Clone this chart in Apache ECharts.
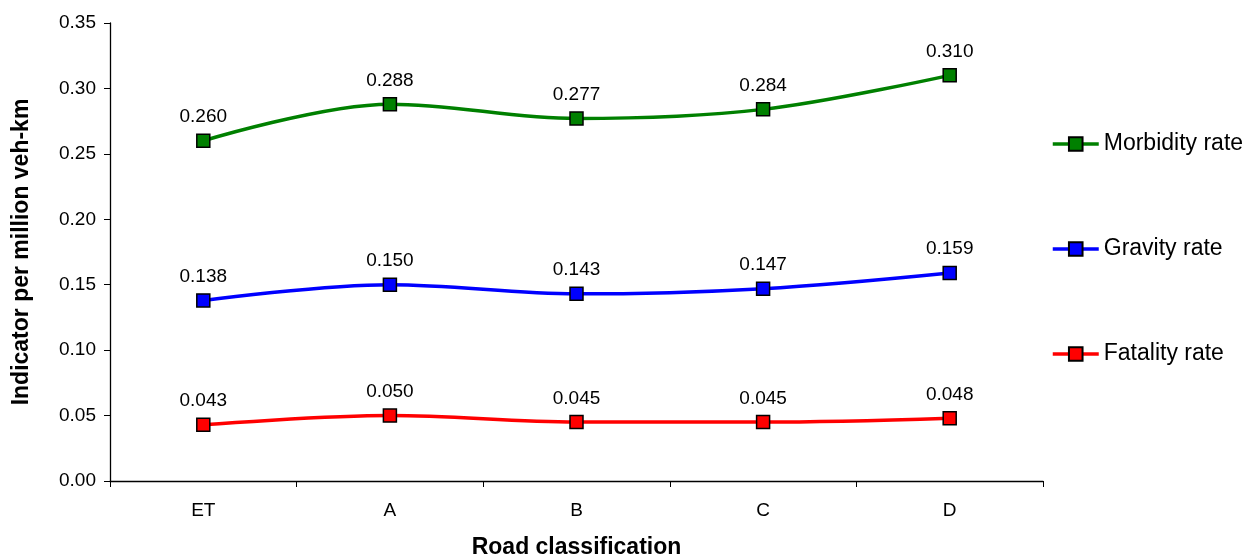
<!DOCTYPE html>
<html>
<head>
<meta charset="utf-8">
<script src="https://cdn.jsdelivr.net/npm/echarts@6/dist/echarts.min.js"></script>
<style>
  html, body { margin: 0; padding: 0; background: #fff; }
  #chart { width: 1250px; height: 555px; }
</style>
</head>
<body>
<div id="chart"></div>
<script>
// Road classes on the x axis
const categories = ['ET', 'A', 'B', 'C', 'D'];
// Rates per million vehicle-km
const morbidityRate = [0.260, 0.288, 0.277, 0.284, 0.310];
const gravityRate   = [0.138, 0.150, 0.143, 0.147, 0.159];
const fatalityRate  = [0.043, 0.050, 0.045, 0.045, 0.048];

const font = '"Liberation Sans", Arial, sans-serif';

function lineSeries(name, data, color) {
  return {
    name: name,
    type: 'line',
    data: data,
    smooth: 0.35,
    symbol: 'rect',
    symbolSize: 13,
    lineStyle: { color: color, width: 3.5 },
    itemStyle: { color: color, borderColor: '#000', borderWidth: 1.5 },
    label: {
      show: true,
      position: 'top',
      distance: 7,
      formatter: p => p.value.toFixed(3),
      fontFamily: font,
      fontSize: 19,
      color: '#000'
    },
    emphasis: { disabled: true },
    animation: false
  };
}

const chart = echarts.init(document.getElementById('chart'), null, { renderer: 'canvas' });
chart.setOption({
  backgroundColor: '#fff',
  animation: false,
  grid: { left: 110, right: 207, top: 23, bottom: 74, containLabel: false, outerBoundsMode: 'none' },
  legend: {
    orient: 'vertical',
    left: 1046,
    top: 127,
    itemWidth: 46,
    itemHeight: 17,
    itemGap: 81,
    data: ['Morbidity rate', 'Gravity rate', 'Fatality rate'],
    lineStyle: { width: 3.5 },
    textStyle: { fontFamily: font, fontSize: 23, color: '#000', lineHeight: 24 },
    selectedMode: false
  },
  xAxis: {
    type: 'category',
    data: categories,
    boundaryGap: true,
    name: 'Road classification',
    nameLocation: 'middle',
    nameGap: 55,
    nameTextStyle: { fontFamily: font, fontSize: 23, fontWeight: 'bold', color: '#000' },
    axisLine: { lineStyle: { color: '#000', width: 1.3 } },
    axisTick: { show: true, length: 6, alignWithLabel: false, lineStyle: { color: '#000' } },
    axisLabel: { fontFamily: font, fontSize: 19, color: '#000', margin: 20 },
    splitLine: { show: false }
  },
  yAxis: {
    type: 'value',
    min: 0,
    max: 0.35,
    interval: 0.05,
    name: 'Indicator per million veh-km',
    nameLocation: 'middle',
    nameGap: 77,
    nameTextStyle: { fontFamily: font, fontSize: 23, fontWeight: 'bold', color: '#000' },
    axisLine: { show: true, lineStyle: { color: '#000', width: 1.3 } },
    axisTick: { show: true, length: 6, lineStyle: { color: '#000' } },
    axisLabel: { fontFamily: font, fontSize: 19, color: '#000', margin: 14, formatter: v => v.toFixed(2) },
    splitLine: { show: false }
  },
  series: [
    lineSeries('Morbidity rate', morbidityRate, '#008000'),
    lineSeries('Gravity rate', gravityRate, '#0000FF'),
    lineSeries('Fatality rate', fatalityRate, '#FF0000')
  ]
});
</script>
</body>
</html>
